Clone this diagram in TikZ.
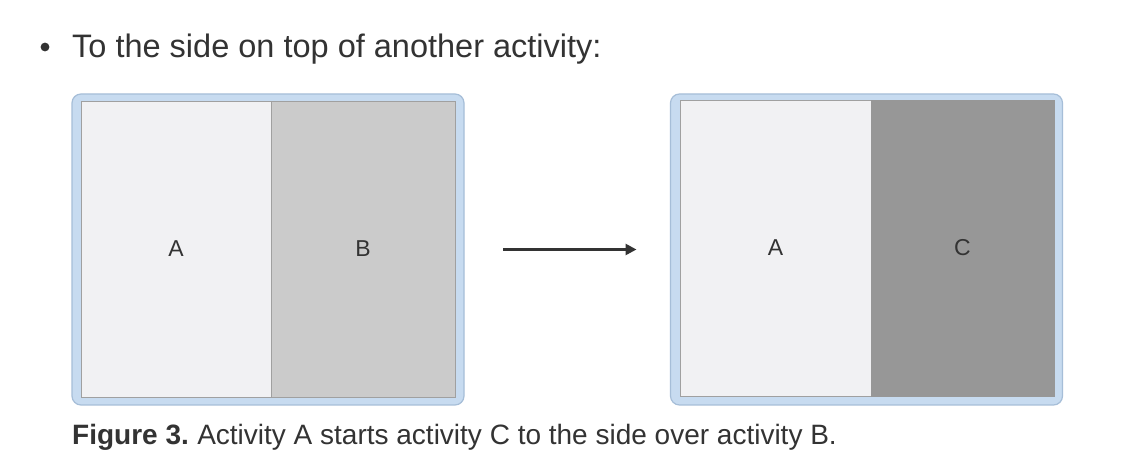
\documentclass[tikz,border=0pt]{standalone}
\usepackage{fontspec}
\setmainfont{Liberation Sans}
\usetikzlibrary{arrows.meta}
\definecolor{framefill}{HTML}{C7DBF0}
\definecolor{frameline}{HTML}{A6BED8}
\definecolor{paneA}{HTML}{F1F1F3}
\definecolor{paneB}{HTML}{CBCBCB}
\definecolor{paneC}{HTML}{979797}
\definecolor{paneline}{HTML}{A0A0A0}
\definecolor{txt}{HTML}{333333}
\tikzset{
  frame/.style={draw=frameline, line width=1.2pt, fill=framefill, rounded corners=9pt,
    minimum width=392pt, minimum height=311pt, inner sep=0pt, outer sep=0pt},
  pane/.style={draw=paneline, line width=0.8pt, inner sep=0pt, outer sep=0pt,
    minimum height=296pt, font=\fontsize{23}{27}\selectfont, text=txt},
  arrowline/.style={draw=txt, line width=2.6pt, -{Triangle[length=11pt,width=11pt]}},
}
\begin{document}
\begin{tikzpicture}[x=1pt,y=1pt]
\useasboundingbox[fill=white] (0,0) rectangle (1124,470);
% bullet and heading
\fill[txt] (45,423) circle (4.4) coordinate (bul);
\node[anchor=base west, inner sep=0pt, text=txt, font=\fontsize{32.5}{38}\selectfont] (head) at (72,412) {To the side on top of another activity:};
% left frame
\node[frame] (lf) at (268,220.5) {};
\node[pane, fill=paneA, minimum width=190pt] (la) at (176,221) {A};
\node[pane, fill=paneB, minimum width=184pt] (lb) at (363,221) {B};
% right frame
\node[frame] (rf) at (866.5,220.5) {};
\node[pane, fill=paneA, minimum width=191pt] (ra) at (775.5,222) {A};
\node[pane, fill=paneC, draw=paneC, minimum width=183pt] (rc) at (962.5,222) {C};
% arrow
\draw[arrowline, shorten <=39pt, shorten >=34pt] (lf) -- (rf);
% caption
\node[anchor=base west, inner sep=0pt, text=txt, font=\fontsize{28}{33}\selectfont] (cap) at (72,25) {\textbf{Figure 3.}\hspace{-2pt} Activity A starts activity C to the side over activity B.};
\end{tikzpicture}
\end{document}
